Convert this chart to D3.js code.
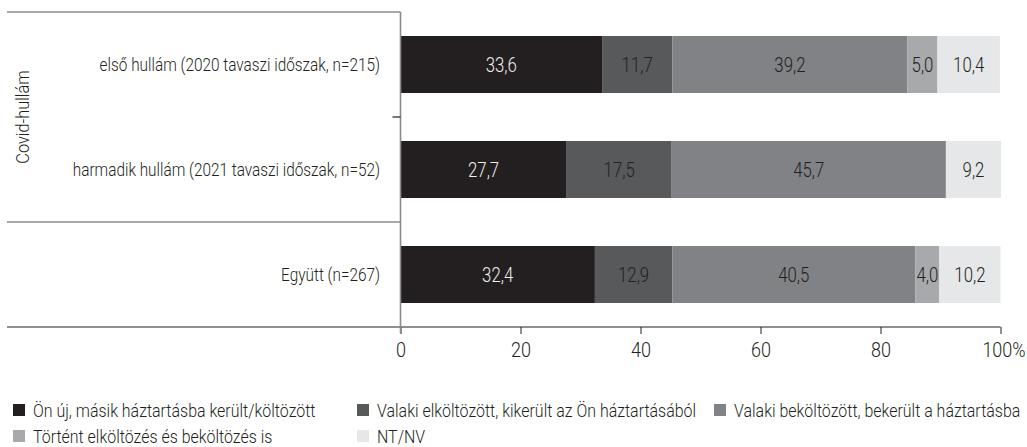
<!DOCTYPE html>
<html>
<head>
<meta charset="utf-8">
<script src="https://cdn.jsdelivr.net/npm/d3@7"></script>
<style>
  html, body { margin: 0; padding: 0; background: #fff; }
  svg { display: block; }
  text { font-family: Roboto, "Noto Sans", sans-serif; font-weight: 300; fill: #231f20; }
</style>
</head>
<body>
<svg id="chart" width="1027" height="447"></svg>
<script>
// Categories (rows) of the stacked bar chart
const categories = [
  "első hullám (2020 tavaszi időszak, n=215)",
  "harmadik hullám (2021 tavaszi időszak, n=52)",
  "Együtt (n=267)"
];
const groupLabel = "Covid-hullám";

// Series names (legend order)
const seriesNames = [
  "Ön új, másik háztartásba került/költözött",
  "Valaki elköltözött, kikerült az Ön háztartásából",
  "Valaki beköltözött, bekerült a háztartásba",
  "Történt elköltözés és beköltözés is",
  "NT/NV"
];

// Percentages per series, one value per category
const moveOut = [33.6, 27.7, 32.4];
const someoneLeft = [11.7, 17.5, 12.9];
const someoneArrived = [39.2, 45.7, 40.5];
const both = [5.0, 0, 4.0];
const noAnswer = [10.4, 9.2, 10.2];

const xTicks = [0, 20, 40, 60, 80, 100];
const colors = ["#231f20", "#58595b", "#808285", "#a7a9ac", "#e6e7e8"];
const labelColors = ["#ececec", "#231f20", "#231f20", "#231f20", "#231f20"];

const seriesValues = [moveOut, someoneLeft, someoneArrived, both, noAnswer];

// Build table for d3.stack
const table = categories.map((c, i) => {
  const row = { category: c };
  seriesNames.forEach((s, j) => { row[s] = seriesValues[j][i]; });
  return row;
});
const stacked = d3.stack().keys(seriesNames)(table);

const svg = d3.select("#chart");
const plotLeft = 400.5, plotRight = 1000.5, plotTop = 12, plotBottom = 327;
const lineLeft = 7;

const x = d3.scaleLinear().domain([0, 100]).range([plotLeft, plotRight]);
const y = d3.scaleBand().domain(categories).range([plotTop, plotBottom])
  .paddingInner(0.457).paddingOuter(0.2286);

const fmt = v => d3.format(".1f")(v).replace(".", ",");

// Place a text at (px, py) and narrow the typeface horizontally by factor k
function placeNarrow(sel, px, py, k) {
  sel.attr("x", 0).attr("y", 0)
    .attr("transform", (d, i) => `translate(${px(d, i)},${py(d, i)}) scale(${k},1)`);
}

// Bars
const layers = svg.append("g").selectAll("g").data(stacked).join("g")
  .attr("fill", (d, i) => colors[i]);
layers.selectAll("rect").data(d => d.map(p => ({ p, key: d.key })))
  .join("rect")
  .attr("x", d => x(d.p[0]))
  .attr("y", d => y(d.p.data.category))
  .attr("width", d => Math.max(0, x(d.p[1]) - x(d.p[0])))
  .attr("height", y.bandwidth());

// Value labels
stacked.forEach((layer, i) => {
  svg.append("g").selectAll("text")
    .data(layer.filter(p => p[1] - p[0] > 0))
    .join("text")
    .call(placeNarrow,
      p => (x(p[0]) + x(p[1])) / 2,
      p => y(p.data.category) + y.bandwidth() / 2, 0.84)
    .attr("dy", "0.36em")
    .attr("text-anchor", "middle")
    .attr("font-size", 20)
    .style("fill", labelColors[i])
    .text(p => fmt(p[1] - p[0]));
});

// X axis
const xAxis = d3.axisBottom(x).tickValues(xTicks).tickSize(7).tickPadding(9)
  .tickFormat(d => d === 100 ? "100%" : d);
const gx = svg.append("g").attr("transform", `translate(0,${plotBottom})`).call(xAxis);
gx.select(".domain").remove();
gx.selectAll(".tick line").attr("stroke", "#231f20");
gx.selectAll(".tick text").attr("font-size", 20).attr("font-family", null).style("fill", "#231f20")
  .call(placeNarrow, d => (d === 100 ? 3 : 0), () => 16, 0.9);
svg.append("line").attr("x1", lineLeft).attr("x2", plotRight).attr("y1", plotBottom).attr("y2", plotBottom)
  .attr("stroke", "#231f20").attr("stroke-width", 1);

// Left frame: category axis and group box
const boundary = i => y(categories[i]) - y.step() * y.paddingInner() / 2;
const frame = svg.append("g").attr("stroke", "#8a8b8d").attr("stroke-width", 1.6);
frame.append("line").attr("x1", lineLeft).attr("x2", plotLeft).attr("y1", plotTop).attr("y2", plotTop);
frame.append("line").attr("x1", lineLeft).attr("x2", plotLeft)
  .attr("y1", boundary(2)).attr("y2", boundary(2));
frame.append("line").attr("x1", plotLeft).attr("x2", plotLeft).attr("y1", plotTop).attr("y2", plotBottom + 6);
svg.append("line").attr("x1", plotLeft - 8).attr("x2", plotLeft)
  .attr("y1", boundary(1)).attr("y2", boundary(1))
  .attr("stroke", "#231f20").attr("stroke-width", 1.2);

// Category labels
svg.append("g").selectAll("text").data(categories).join("text")
  .call(placeNarrow, () => 380, d => y(d) + y.bandwidth() / 2, 0.83)
  .attr("dy", "0.36em")
  .attr("text-anchor", "end")
  .attr("font-size", 18.5)
  .text(d => d);

// Group label (rotated)
const groupMid = (plotTop + boundary(2)) / 2;
svg.append("text")
  .attr("transform", `translate(29,${groupMid}) rotate(-90) scale(0.86,1)`)
  .attr("text-anchor", "middle")
  .attr("font-size", 19)
  .text(groupLabel);

// Legend
const legendPos = [
  { x: 13, y: 410 }, { x: 357, y: 410 }, { x: 714, y: 410 },
  { x: 13, y: 436 }, { x: 357, y: 436 }
];
const lg = svg.append("g").selectAll("g").data(seriesNames).join("g")
  .attr("transform", (d, i) => `translate(${legendPos[i].x},${legendPos[i].y})`);
lg.append("rect").attr("x", 0).attr("y", -6).attr("width", 12).attr("height", 12)
  .attr("fill", (d, i) => colors[i]);
lg.append("text")
  .call(placeNarrow, () => 20, () => 0, 0.84)
  .attr("dy", "0.36em").attr("font-size", 19)
  .text(d => d);
</script>
</body>
</html>
